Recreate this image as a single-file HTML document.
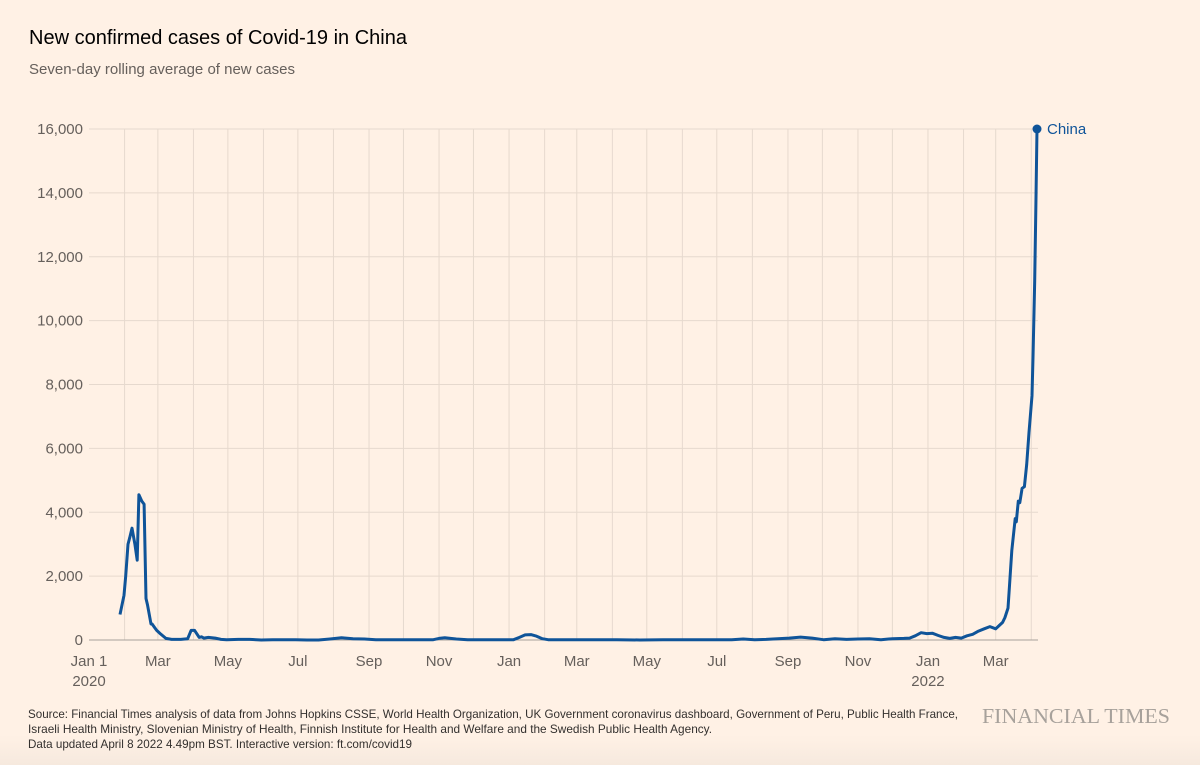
<!DOCTYPE html>
<html><head><meta charset="utf-8"><style>
body{margin:0;background:#fff1e5;}
svg{display:block;font-family:"Liberation Sans",sans-serif;}
</style></head><body>
<svg id="chart" width="1200" height="765" viewBox="0 0 1200 765">
<defs><linearGradient id="fb" x1="0" y1="0" x2="0" y2="1"><stop offset="0" stop-color="#fff1e5"/><stop offset="1" stop-color="#f6e9de"/></linearGradient></defs>
<rect x="0" y="0" width="1200" height="765" fill="#fff1e5"/>
<rect x="0" y="735" width="1200" height="30" fill="url(#fb)"/>
<text x="29" y="44" font-size="20" fill="#000">New confirmed cases of Covid-19 in China</text>
<text x="29" y="74" font-size="15" fill="#66605c">Seven-day rolling average of new cases</text>
<g id="grid"></g>
<g id="axes"></g>
<path id="line" fill="none" stroke="#0f5499" stroke-width="3" stroke-linejoin="round"/>
<g id="labels"></g>
<text x="28" y="718" font-size="12" fill="#33302e" textLength="930" lengthAdjust="spacingAndGlyphs">Source: Financial Times analysis of data from Johns Hopkins CSSE, World Health Organization, UK Government coronavirus dashboard, Government of Peru, Public Health France,</text>
<text x="28" y="733" font-size="12" fill="#33302e" textLength="684" lengthAdjust="spacingAndGlyphs">Israeli Health Ministry, Slovenian Ministry of Health, Finnish Institute for Health and Welfare and the Swedish Public Health Agency.</text>
<text x="28" y="748" font-size="12" fill="#33302e" textLength="384" lengthAdjust="spacingAndGlyphs">Data updated April 8 2022 4.49pm BST. Interactive version: ft.com/covid19</text>
<text x="982" y="723" font-family="Liberation Serif,serif" font-size="21" fill="#a7a19b" textLength="188" lengthAdjust="spacingAndGlyphs">FINANCIAL TIMES</text>
</svg>
<script>
// days since Jan 1 2020 (each row of 10 pairs with the matching row in cases)
const days = [
27,30.5,32,34,35.5,37.5,40,42,43.5,46,
48,49.7,51,54,55,57,59,62,67,72,
80,86,89,92,96,98,100,104,110,115,
120,130,140,150,160,180,190,200,210,220,
230,240,250,300,305,310,320,330,370,375,
380,385,390,395,400,460,480,500,560,570,
580,590,600,610,620,630,640,650,660,670,
680,690,700,710,715,720,725,730,735,740,
745,750,755,760,765,770,775,780,785,790,
793,796,798,800.7,802,804,807,808,809.7,811,
813,815,817,819,821.6,822.5,824,825,826];
const cases = [
800,1400,2000,3000,3200,3500,3000,2500,4550,4350,
4250,1300,1100,500,500,400,300,200,50,20,
20,40,300,300,80,100,60,80,60,20,
10,20,20,0,10,10,0,0,30,70,
40,30,10,10,50,70,30,10,10,80,
160,170,120,40,10,10,0,10,10,30,
10,20,40,60,90,60,10,40,20,30,
40,10,40,50,60,130,230,200,210,140,
80,50,80,60,130,180,280,350,420,350,
450,550,700,1000,1700,2800,3800,3700,4350,4300,
4750,4800,5500,6500,7650,8850,11250,13650,16000];
const yTicks = [0,2000,4000,6000,8000,10000,12000,14000,16000];
const monthLabels = [["Jan 1","2020",0],["Mar","",60],["May","",121],["Jul","",182],["Sep","",244],["Nov","",305],["Jan","",366],["Mar","",425],["May","",486],["Jul","",547],["Sep","",609],["Nov","",670],["Jan","2022",731],["Mar","",790]];
const monthStarts = [0,31,60,91,121,152,182,213,244,274,305,335,366,397,425,456,486,517,547,578,609,639,670,700,731,762,790,821];

const NS="http://www.w3.org/2000/svg";
const x = d => 89 + d*1.1477;
const y = v => 640 - v*(511/16000);
function mk(tag, attrs, parent, txt){const e=document.createElementNS(NS,tag);for(const k in attrs)e.setAttribute(k,attrs[k]);if(txt!==undefined)e.textContent=txt;parent.appendChild(e);return e;}
const grid=document.getElementById('grid'), axes=document.getElementById('axes'), labels=document.getElementById('labels');
monthStarts.forEach(d=>{
  if(d===0) return;
  const l=mk('line',{x1:x(d),x2:x(d),y1:129,y2:640,stroke:'#e6d9ce','stroke-width':1},grid);
  
  
});
yTicks.forEach(v=>{
  if(v>0){
    const l=mk('line',{x1:89,x2:1038,y1:y(v),y2:y(v),stroke:'#e6d9ce','stroke-width':1},grid);
    
    
  }
  const t=mk('text',{x:83,y:y(v)+5,'text-anchor':'end','font-size':15,fill:'#66605c'},axes,v.toLocaleString('en-US'));
  
  
});
const base=mk('line',{x1:89,x2:1038,y1:640,y2:640,stroke:'#a7a19b','stroke-width':1},axes);


monthLabels.forEach(m=>{
  const t=mk('text',{x:x(m[2]),y:666,'text-anchor':'middle','font-size':15,fill:'#66605c'},axes,m[0]);
  
  
  if(m[1]){
    const t2=mk('text',{x:x(m[2]),y:686,'text-anchor':'middle','font-size':15,fill:'#66605c'},axes,m[1]);
    
    
  }
});
const n=Math.min(days.length,cases.length);
let d='';
for(let i=0;i<n;i++) d+=(i?'L':'M')+x(days[i]).toFixed(1)+','+y(cases[i]).toFixed(1);
document.getElementById('line').setAttribute('d', d);
const last=n-1;
const dot=mk('circle',{cx:x(days[last]),cy:y(cases[last]),r:4.5,fill:'#0f5499'},labels);


const lab=mk('text',{x:x(days[last])+10,y:y(cases[last])+5,'font-size':15,fill:'#0f5499'},labels,'China');


</script>
</body></html>
